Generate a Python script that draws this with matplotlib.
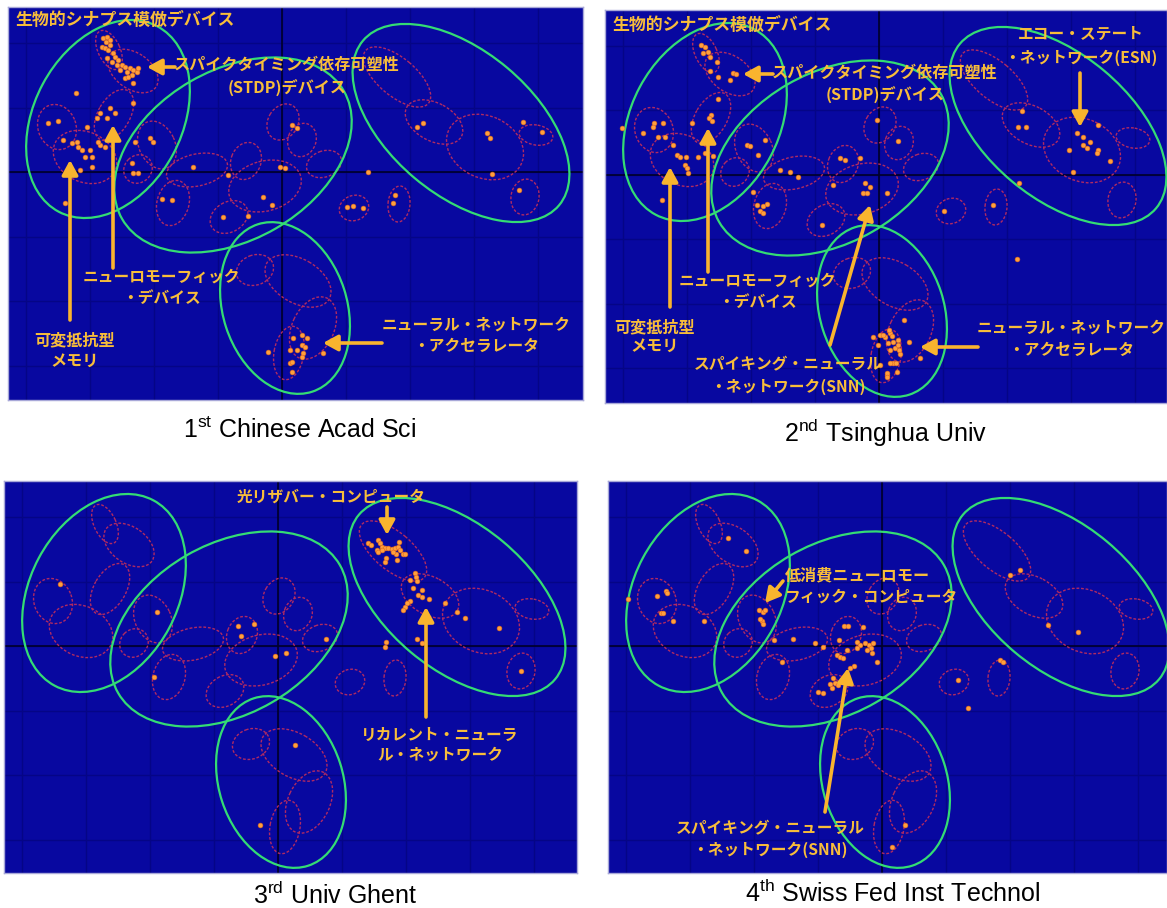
import numpy as np
import matplotlib
matplotlib.use('Agg')
import matplotlib.pyplot as plt
from matplotlib.patches import Ellipse

plt.rcParams['font.family'] = ['Noto Sans CJK JP', 'DejaVu Sans']
plt.rcParams['mathtext.fontset'] = 'custom'
plt.rcParams['mathtext.rm'] = 'Liberation Sans'

# ---- cluster map (shared by all four panels), pixel units of the panel ----
# large clusters: centre x, centre y, major, minor, angle (deg, on screen)
green_cx = [100, 225, 453, 277]
green_cy = [112, 148, 116, 301]
green_w = [210, 256, 256, 176]
green_h = [148, 170, 144, 124]
green_ang = [62, 30, -40, -72]

# sub clusters
red_cx = [101, 125, 106, 49, 77, 149, 130, 189, 165, 238, 257, 275, 294,
          316, 389, 426, 477, 528, 517, 391, 346, 221, 247, 290, 305, 281]
red_cy = [43, 64, 108, 120, 150, 138, 162, 163, 196, 154, 179, 115, 133,
          157, 70, 115, 140, 128, 190, 197, 201, 210, 263, 274, 321, 346]
red_w = [42, 56, 56, 46, 66, 50, 30, 62, 46, 38, 74, 38, 34,
         36, 82, 62, 80, 34, 36, 36, 30, 40, 38, 72, 66, 54]
red_h = [22, 36, 32, 38, 50, 36, 27, 32, 32, 30, 50, 30, 28,
         26, 38, 38, 62, 20, 28, 22, 25, 30, 30, 44, 42, 30]
red_ang = [-65, -35, 60, -70, -25, -65, 45, 12, 75, 70, 15, 60, 70,
           20, -40, -28, -25, -10, 80, 85, 20, 30, 20, -30, 65, 80]

# ---- papers of each institution ----
p1_x = [95, 98, 99, 94, 97, 100, 102, 105, 107, 99, 104, 110, 114, 112, 117, 119, 122, 125, 129, 124,
        117, 120, 109, 130, 102, 125,
        68, 125, 102, 107, 92, 89, 99, 79, 50, 40, 92, 97, 90, 55, 64, 69, 70, 74, 82, 77, 84, 84, 72,
        142, 145, 127, 124, 125, 130, 185, 220, 284, 289, 277, 272,
        409, 415, 479, 482, 515, 534, 360, 484, 511,
        57, 154, 164, 215, 240, 255, 264, 387, 385, 339, 345, 355,
        285, 282, 282, 284, 260, 294, 299, 289, 294, 297, 295, 294, 284, 315]
p1_y = [31, 35, 30, 40, 41, 43, 38, 46, 50, 51, 55, 53, 58, 63, 60, 65, 61, 63, 65, 68,
        71, 70, 58, 61, 33, 76,
        86, 96, 101, 106, 106, 111, 111, 120, 114, 116, 138, 140, 135, 133, 136, 135, 140, 143, 143, 150, 150, 160, 163,
        131, 135, 135, 156, 166, 166, 160, 168, 118, 121, 161, 160,
        120, 116, 126, 131, 115, 125, 165, 167, 183,
        196, 192, 193, 210, 209, 190, 198, 188, 196, 200, 199, 201,
        331, 343, 356, 365, 345, 328, 331, 343, 338, 340, 346, 350, 355, 346]

p2_x = [96, 100, 98, 103, 105, 112, 105, 113, 125, 128, 131, 113, 106, 104, 107, 87, 49, 58, 48, 38,
        53, 60, 17, 68, 72, 75, 81, 93, 100, 108, 80, 82, 83, 142, 145, 153, 160, 148, 175, 185,
        193, 235, 240, 255, 272, 228, 260, 265, 258, 282, 293,
        417, 413, 421, 472, 478, 485, 478, 482, 493, 464, 493, 492, 505, 468, 414,
        57, 152, 158, 155, 158, 162, 217, 262,
        268, 275, 280, 285, 283, 288, 285, 290, 282, 288, 292, 273,
        339, 388, 412, 299, 284, 287, 278, 293, 293, 304, 294, 295, 291, 285, 315, 282, 282, 275]
p2_y = [35, 37, 43, 42, 47, 52, 61, 67, 70, 63, 64, 89, 105, 108, 111, 113, 113, 113, 117, 123,
        127, 127, 118, 135, 145, 147, 147, 147, 143, 146, 155, 158, 163, 135, 136, 145, 130, 182, 160, 162,
        167, 148, 150, 148, 110, 175, 173, 177, 183, 183, 131,
        101, 117, 117, 123, 127, 132, 135, 138, 115, 140, 140, 143, 151, 162, 173,
        190, 195, 196, 201, 203, 194, 215, 183,
        327, 325, 327, 323, 333, 332, 340, 338, 365, 353, 362, 335,
        201, 195, 249, 310, 320, 326, 325, 330, 335, 332, 340, 344, 353, 353, 348, 363, 367, 355]

p3_x = [56, 153, 234, 250, 237, 271, 282, 150,
        364, 367, 374, 376, 373, 378, 381, 384, 388, 391, 394, 396, 399, 395, 392, 382, 381, 393, 374, 378,
        389, 401,
        411, 412, 406, 413, 409, 418, 414, 418, 425, 406, 403, 401, 399, 441, 453, 461, 495, 322, 413, 418,
        382, 381, 517, 291, 256]
p3_y = [103, 131, 145, 143, 155, 175, 172, 196,
        62, 64, 59, 62, 69, 66, 67, 67, 68, 67, 66, 69, 73, 61, 73, 77, 81, 79, 71, 69,
        71, 73,
        92, 96, 99, 100, 107, 109, 114, 116, 118, 120, 122, 126, 129, 122, 131, 137, 147, 158, 158, 162,
        161, 166, 190, 264, 344]

p4_x = [120, 138, 20, 49, 58, 59, 53, 55, 65, 96,
        151, 155, 157, 154, 155, 152,
        166, 185, 207, 215, 174,
        236, 240, 255, 231, 239, 249, 252, 257, 261, 263, 265, 264, 269, 249, 259, 229, 232, 235, 246, 242,
        227, 224, 222, 230, 215, 210, 225,
        402, 412, 440, 470, 392, 395, 350, 360, 297, 284]
p4_y = [57, 70, 118, 115, 110, 112, 132, 132, 140, 140,
        129, 131, 129, 140, 143, 138,
        159, 158, 162, 166, 181,
        145, 145, 146, 159, 169, 161, 164, 162, 164, 167, 162, 172, 181, 167, 169, 174, 176, 177, 185, 187,
        202, 207, 203, 204, 212, 211, 197,
        94, 89, 144, 151, 179, 181, 199, 227, 344, 366]

captions = [r'1$^{\rm st}$ Chinese Acad Sci', r'2$^{\rm nd}$ Tsinghua Univ',
            r'3$^{\rm rd}$ Univ Ghent', r'4$^{\rm th}$ Swiss Fed Inst Technol']

# ---- figure ----
W, H = 1167, 908
fig = plt.figure(figsize=(W / 100, H / 100), dpi=100)
fig.patch.set_facecolor('white')

boxes = [(8, 7, 575, 393), (605, 10, 562, 393), (4, 481, 573, 392), (608, 481, 559, 392)]
dots = [(p1_x, p1_y), (p2_x, p2_y), (p3_x, p3_y), (p4_x, p4_y)]
cap_pos = [(300, 430), (885, 433), (335, 895), (893, 893)]

txt_c = '#f8bd3a'
arr_c = '#f9b42e'

# text lines (x, y, string, ha, size) and arrows (tail, tip) for each panel
labels = [
    [(7, 13, '生物的シナプス模倣デバイス', 'left', 12.2),
     (279, 58, 'スパイクタイミング依存可塑性', 'center', 11.6),
     (279, 81, '(STDP)デバイス', 'center', 11.6),
     (153, 270, 'ニューロモーフィック', 'center', 11.3),
     (153, 291, '・デバイス', 'center', 11.3),
     (67, 333, '可変抵抗型', 'center', 11.6),
     (67, 354, 'メモリ', 'center', 11.6),
     (468, 318, 'ニューラル・ネットワーク', 'center', 11.3),
     (468, 339, '・アクセラレータ', 'center', 11.3)],
    [(7, 15, '生物的シナプス模倣デバイス', 'left', 12.2),
     (280, 63, 'スパイクタイミング依存可塑性', 'center', 11.6),
     (280, 85, '(STDP)デバイス', 'center', 11.6),
     (476, 24, 'エコー・ステート', 'center', 11.3),
     (476, 48, '・ネットワーク(ESN)', 'center', 11.3),
     (152, 271, 'ニューロモーフィック', 'center', 11.3),
     (152, 292, '・デバイス', 'center', 11.3),
     (50, 317, '可変抵抗型', 'center', 11.6),
     (50, 336, 'メモリ', 'center', 11.6),
     (183, 354, 'スパイキング・ニューラル', 'center', 11.3),
     (183, 377, '・ネットワーク(SNN)', 'center', 11.3),
     (466, 318, 'ニューラル・ネットワーク', 'center', 11.3),
     (466, 340, '・アクセラレータ', 'center', 11.3)],
    [(327, 16, '光リザバー・コンピュータ', 'center', 11.3),
     (436, 254, 'リカレント・ニューラ', 'center', 11.3),
     (436, 274, 'ル・ネットワーク', 'center', 11.3)],
    [(177, 94, '低消費ニューロモー', 'left', 11.6),
     (177, 116, 'フィック・コンピュータ', 'left', 11.3),
     (162, 347, 'スパイキング・ニューラル', 'center', 11.3),
     (162, 369, '・ネットワーク(SNN)', 'center', 11.3)],
]
arrows = [
    [((167, 60), (139, 60)), ((105, 261), (105, 118)), ((62, 313), (62, 153)), ((374, 336), (315, 336))],
    [((168, 64), (138, 64)), ((475, 63), (475, 117)), ((103, 262), (103, 118)), ((65, 297), (65, 157)),
     ((225, 335), (265, 195)), ((373, 337), (315, 337))],
    [((383, 26), (383, 54)), ((422, 236), (422, 126))],
    [((175, 100), (157, 122)), ((217, 331), (240, 187))],
]

for i, (bx, by, bw, bh) in enumerate(boxes):
    ax = fig.add_axes([bx / W, 1 - (by + bh) / H, bw / W, bh / H])
    ax.set_facecolor('#0808a0')
    ax.set_xlim(0, bw)
    ax.set_ylim(bh, 0)
    ax.set_xticks([])
    ax.set_yticks([])
    for s in ax.spines.values():
        s.set_color('#a8a8d8')
        s.set_linewidth(1)

    # faint map grid, darker centre lines
    for gx in np.arange(18, bw, 64):
        ax.axvline(gx, color='#050586', lw=1, zorder=1)
    for gy in np.arange(36, bh, 64.5):
        ax.axhline(gy, color='#050586', lw=1, zorder=1)
    ax.axvline(274, color='#00002a', lw=1.2, zorder=1)
    ax.axhline(165, color='#00002a', lw=1.2, zorder=1)

    for cx, cy, w, h, a in zip(red_cx, red_cy, red_w, red_h, red_ang):
        ax.add_patch(Ellipse((cx, cy), w, h, angle=-a, fill=False, ec='#b02a62',
                             lw=1.0, ls=(0, (2, 1.3)), zorder=2))
    for cx, cy, w, h, a in zip(green_cx, green_cy, green_w, green_h, green_ang):
        ax.add_patch(Ellipse((cx, cy), w, h, angle=-a, fill=False, ec='#34dc74',
                             lw=1.6, zorder=3))

    xs, ys = dots[i]
    ax.scatter(xs, ys, s=12, c='#ffa03c', edgecolors='#e0681e', linewidths=0.4, zorder=4)

    for x, y, s, ha, fs in labels[i]:
        ax.text(x, y, s, color=txt_c, fontsize=fs, fontweight='bold', ha=ha, va='center', zorder=6)
    for tail, tip in arrows[i]:
        ax.annotate('', xy=tip, xytext=tail, zorder=5,
                    arrowprops=dict(arrowstyle='-|>,head_length=0.55,head_width=0.3',
                                    color=arr_c, lw=2.6, mutation_scale=16,
                                    shrinkA=0, shrinkB=0))

    cx, cy = cap_pos[i]
    fig.text(cx / W, 1 - cy / H, captions[i], fontsize=18, ha='center', va='center',
             family='Liberation Sans', color='black')

fig.savefig('out.png', dpi=100)
